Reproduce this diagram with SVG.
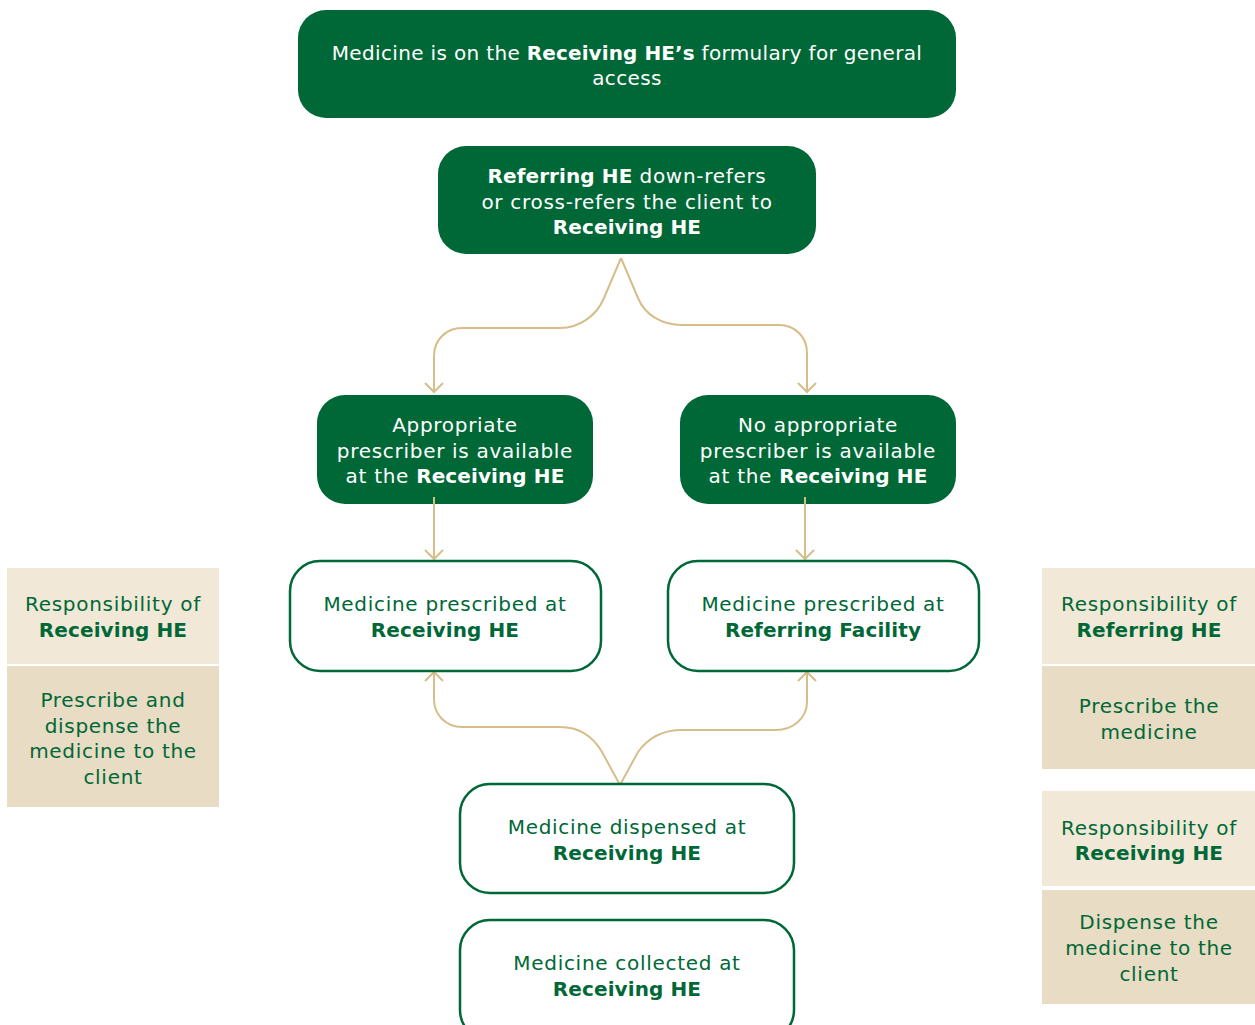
<svg xmlns="http://www.w3.org/2000/svg" width="1255" height="1025" viewBox="0 0 1255 1025">
  <style>
    .solid { fill: #006837; }
    .outline { fill: #ffffff; stroke: #006837; stroke-width: 2.5; }
    .t { font-family: "DejaVu Sans", "Noto Sans", sans-serif; font-size: 20px; letter-spacing: 0.7px; text-anchor: middle; }
    .top { letter-spacing: 0.35px; }
    .w { fill: #ffffff; }
    .g { fill: #006837; }
    .b { font-weight: 700; letter-spacing: 0.1px; }
    .light { fill: #f2e8d8; }
    .dark { fill: #e8dcc4; }
    .conn { fill: none; stroke: #d7bd8a; stroke-width: 2; }
  </style>
  <defs>
    <marker id="chev" markerUnits="userSpaceOnUse" markerWidth="22" markerHeight="22" viewBox="-11 -11 22 22" refX="0" refY="0" orient="auto">
      <path d="M-9,-9 L0,0 L-9,9" fill="none" stroke="#d7bd8a" stroke-width="2"/>
    </marker>
  </defs>

  <rect width="1255" height="1025" fill="#ffffff"/>

  <!-- connectors -->
  <g id="connectors">
    <path class="conn" marker-end="url(#chev)" d="M621,258 L604,298 C597,315 580,328 560,328 L462,328 C446,328 434,340 434,356 L434,392"/>
    <path class="conn" marker-end="url(#chev)" d="M621,258 L638,298 C645,315 662,325 682,325 L779,325 C795,325 807,337 807,353 L807,392"/>
    <path class="conn" marker-end="url(#chev)" d="M620,785 L602,752 C592,735 578,727 560,727 L462,727 C446,727 434,715 434,699 L434,672"/>
    <path class="conn" marker-end="url(#chev)" d="M620,785 L638,752 C648,738 662,730 682,730 L776,730 C793,730 807,718 807,702 L807,672"/>
  </g>

  <!-- decision / process nodes -->
  <g id="node-formulary">
    <rect class="solid" x="298" y="10" width="658" height="108" rx="28"/>
    <text class="t top w" x="627" y="60">Medicine is on the <tspan class="b">Receiving HE’s</tspan> formulary for general</text>
    <text class="t top w" x="627" y="85">access</text>
  </g>

  <g id="node-referral">
    <rect class="solid" x="438" y="146" width="378" height="108" rx="28"/>
    <text class="t w" x="627" y="183"><tspan class="b">Referring HE</tspan> down-refers</text>
    <text class="t w" x="627" y="208.5">or cross-refers the client to</text>
    <text class="t w b" x="627" y="234">Receiving HE</text>
  </g>

  <g id="node-prescriber-yes">
    <rect class="solid" x="317" y="395" width="276" height="109" rx="28"/>
    <text class="t w" x="455" y="432">Appropriate</text>
    <text class="t w" x="455" y="457.5">prescriber is available</text>
    <text class="t w" x="455" y="483">at the <tspan class="b">Receiving HE</tspan></text>
  </g>

  <g id="node-prescriber-no">
    <rect class="solid" x="680" y="395" width="276" height="109" rx="28"/>
    <text class="t w" x="818" y="432">No appropriate</text>
    <text class="t w" x="818" y="457.5">prescriber is available</text>
    <text class="t w" x="818" y="483">at the <tspan class="b">Receiving HE</tspan></text>
  </g>

  <!-- straight drops drawn over the dark boxes -->
  <g id="connectors-straight">
    <path class="conn" marker-end="url(#chev)" d="M434,497 L434,559"/>
    <path class="conn" marker-end="url(#chev)" d="M805,497 L805,559"/>
  </g>

  <g id="node-prescribed-receiving">
    <rect class="outline" x="290" y="561" width="311" height="110" rx="30"/>
    <text class="t g" x="445" y="611">Medicine prescribed at</text>
    <text class="t g b" x="445" y="637">Receiving HE</text>
  </g>

  <g id="node-prescribed-referring">
    <rect class="outline" x="668" y="561" width="311" height="110" rx="30"/>
    <text class="t g" x="823" y="611">Medicine prescribed at</text>
    <text class="t g b" x="823" y="637">Referring Facility</text>
  </g>

  <g id="node-dispensed">
    <rect class="outline" x="460" y="784" width="334" height="109" rx="30"/>
    <text class="t g" x="627" y="834">Medicine dispensed at</text>
    <text class="t g b" x="627" y="860">Receiving HE</text>
  </g>

  <g id="node-collected">
    <rect class="outline" x="460" y="920" width="334" height="120" rx="30"/>
    <text class="t g" x="627" y="970">Medicine collected at</text>
    <text class="t g b" x="627" y="996">Receiving HE</text>
  </g>

  <!-- responsibility panels, left -->
  <g id="panel-left-owner">
    <rect class="light" x="7" y="568" width="212" height="96"/>
    <text class="t g" x="113" y="611">Responsibility of</text>
    <text class="t g b" x="113" y="637">Receiving HE</text>
  </g>
  <g id="panel-left-task">
    <rect class="dark" x="7" y="666" width="212" height="141"/>
    <text class="t g" x="113" y="707">Prescribe and</text>
    <text class="t g" x="113" y="732.5">dispense the</text>
    <text class="t g" x="113" y="758">medicine to the</text>
    <text class="t g" x="113" y="784">client</text>
  </g>

  <!-- responsibility panels, right -->
  <g id="panel-right-prescribe-owner">
    <rect class="light" x="1042" y="568" width="213" height="96"/>
    <text class="t g" x="1149" y="611">Responsibility of</text>
    <text class="t g b" x="1149" y="637">Referring HE</text>
  </g>
  <g id="panel-right-prescribe-task">
    <rect class="dark" x="1042" y="666" width="213" height="103"/>
    <text class="t g" x="1149" y="713">Prescribe the</text>
    <text class="t g" x="1149" y="739">medicine</text>
  </g>
  <g id="panel-right-dispense-owner">
    <rect class="light" x="1042" y="791" width="213" height="95"/>
    <text class="t g" x="1149" y="835">Responsibility of</text>
    <text class="t g b" x="1149" y="860">Receiving HE</text>
  </g>
  <g id="panel-right-dispense-task">
    <rect class="dark" x="1042" y="890" width="213" height="114"/>
    <text class="t g" x="1149" y="929">Dispense the</text>
    <text class="t g" x="1149" y="955">medicine to the</text>
    <text class="t g" x="1149" y="981">client</text>
  </g>
</svg>
